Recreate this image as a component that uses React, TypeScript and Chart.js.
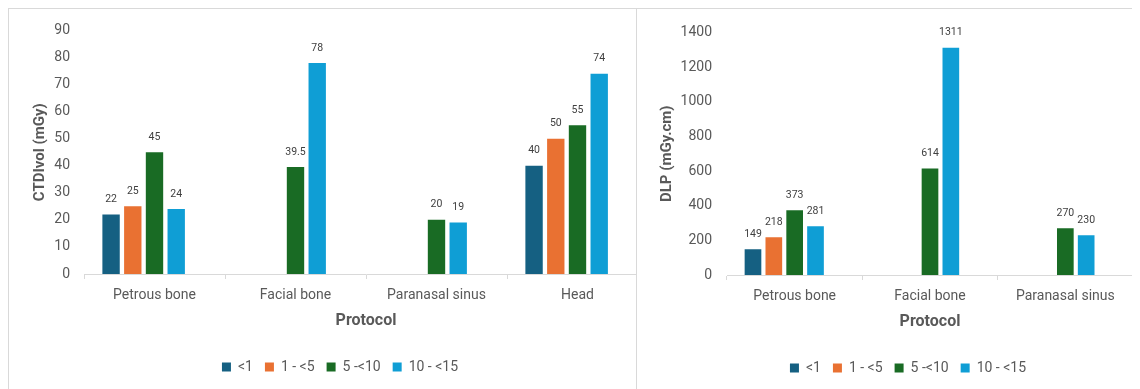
import React, { useEffect, useRef } from "react";
import { Chart, registerables } from "chart.js";

Chart.register(...registerables);

// Age groups (years) shared by both panels
const ageGroups = ["<1", "1 - <5", "5 -<10", "10 - <15"];
const ageColors = ["#156082", "#E97132", "#196B24", "#0F9ED5"];

// CTDIvol by protocol
const ctdiProtocols = ["Petrous bone", "Facial bone", "Paranasal sinus", "Head"];
const ctdiUnder1 = [22, null, null, 40];
const ctdi1to5 = [25, null, null, 50];
const ctdi5to10 = [45, 39.5, 20, 55];
const ctdi10to15 = [24, 78, 19, 74];
const ctdiMax = 90;
const ctdiStep = 10;

// DLP by protocol
const dlpProtocols = ["Petrous bone", "Facial bone", "Paranasal sinus"];
const dlpUnder1 = [149, null, null];
const dlp1to5 = [218, null, null];
const dlp5to10 = [373, 614, 270];
const dlp10to15 = [281, 1311, 230];
const dlpMax = 1400;
const dlpStep = 200;

const FONT = "Roboto, 'Noto Sans', sans-serif";
const GREY_TEXT = "#595959";
const GREY_LINE = "#d9d9d9";

Chart.defaults.font.family = FONT;

// Prints each bar's value above it
const valueLabels = {
  id: "valueLabels",
  afterDatasetsDraw(chart: any) {
    const ctx = chart.ctx;
    ctx.save();
    ctx.font = `10.5px ${FONT}`;
    ctx.fillStyle = "#404040";
    ctx.textAlign = "center";
    ctx.textBaseline = "middle";
    chart.data.datasets.forEach((ds: any, di: number) => {
      const meta = chart.getDatasetMeta(di);
      if (meta.hidden) return;
      meta.data.forEach((bar: any, i: number) => {
        const v = ds.data[i];
        if (v === null || v === undefined) return;
        ctx.fillText(String(v), bar.x, bar.y - 15);
      });
    });
    ctx.restore();
  },
};

// Centres the legend on the whole canvas rather than on the padded box
const legendOnFullWidth = {
  id: "legendOnFullWidth",
  afterLayout(chart: any) {
    if (!chart.legend) return;
    chart.legend.left = 0;
    chart.legend.right = chart.width;
  },
};

type PanelProps = {
  left: number;
  width: number;
  labels: string[];
  series: (number | null)[][];
  max: number;
  step: number;
  yTitle: string;
  yAxisWidth: number;
  rightPad: number;
  yTitlePad: number;
  yTickPad: number;
};

function BarPanel(p: PanelProps) {
  const ref = useRef<HTMLCanvasElement>(null);

  useEffect(() => {
    if (!ref.current) return;
    const datasets: any[] = p.series.map((data, i) => ({
      label: ageGroups[i],
      data,
      backgroundColor: ageColors[i],
      borderWidth: 0,
    }));
    // empty fifth slot in each group, kept out of the legend
    datasets.push({
      label: "",
      data: p.labels.map(() => null),
      backgroundColor: "rgba(0,0,0,0)",
    });

    const chart = new Chart(ref.current, {
      type: "bar",
      data: { labels: p.labels, datasets },
      plugins: [valueLabels, legendOnFullWidth],
      options: {
        responsive: false,
        animation: false,
        events: [],
        layout: { padding: { top: 20, left: 0, right: p.rightPad, bottom: 0 } },
        datasets: {
          bar: { categoryPercentage: 0.77, barPercentage: 0.8 },
        },
        plugins: {
          tooltip: { enabled: false },
          legend: {
            position: "bottom",
            labels: {
              boxWidth: 9,
              boxHeight: 9,
              padding: 12,
              color: GREY_TEXT,
              font: { size: 14, family: FONT },
              filter: (item: any) => item.text !== "",
            },
          },
        },
        scales: {
          x: {
            offset: true,
            grid: {
              display: true,
              drawOnChartArea: false,
              drawTicks: true,
              tickLength: 5,
              color: GREY_LINE,
              offset: true,
            },
            border: { display: true, color: GREY_LINE },
            ticks: {
              color: GREY_TEXT,
              font: { size: 14, family: FONT },
              padding: 8,
              maxRotation: 0,
              autoSkip: false,
            },
            title: {
              display: true,
              text: "Protocol",
              color: GREY_TEXT,
              font: { size: 16, weight: "bold", family: FONT },
              padding: { top: 0, bottom: 17 },
            },
            afterFit: (scale: any) => {
              scale.height = 74;
            },
          },
          y: {
            min: 0,
            max: p.max,
            grid: { display: false, drawTicks: false },
            border: { display: false },
            ticks: {
              stepSize: p.step,
              color: GREY_TEXT,
              font: { size: 14, family: FONT },
              padding: p.yTickPad,
              callback: (v: any) => String(v),
            },
            title: {
              display: true,
              text: p.yTitle,
              color: GREY_TEXT,
              font: { size: 15, weight: "bold", family: FONT },
              padding: { top: p.yTitlePad, bottom: 0 },
            },
            afterFit: (scale: any) => {
              scale.width = p.yAxisWidth;
            },
          },
        },
      },
    } as any);
    return () => chart.destroy();
  }, []);

  return (
    <canvas
      ref={ref}
      width={p.width}
      height={376}
      style={{ position: "absolute", left: p.left, top: 0, display: "block" }}
    />
  );
}

export default function App() {
  return (
    <div
      style={{
        position: "relative",
        width: 1132,
        height: 381,
        overflow: "hidden",
        background: "#ffffff",
        borderTop: `1px solid ${GREY_LINE}`,
        borderLeft: `1px solid ${GREY_LINE}`,
        boxSizing: "border-box",
      }}
    >
      <div
        style={{
          position: "absolute",
          left: -1,
          top: -1,
          width: 628,
          height: 390,
          overflow: "hidden",
        }}
      >
        <BarPanel
          left={0}
          width={664}
          labels={ctdiProtocols}
          series={[ctdiUnder1, ctdi1to5, ctdi5to10, ctdi10to15]}
          max={ctdiMax}
          step={ctdiStep}
          yTitle="CTDIvol (mGy)"
          yAxisWidth={76}
          rightPad={24}
          yTitlePad={23}
          yTickPad={14}
        />
      </div>
      <div
        style={{
          position: "absolute",
          left: 627,
          top: -1,
          width: 1,
          height: 390,
          background: GREY_LINE,
        }}
      />
      <BarPanel
        left={627}
        width={544}
        labels={dlpProtocols}
        series={[dlpUnder1, dlp1to5, dlp5to10, dlp10to15]}
        max={dlpMax}
        step={dlpStep}
        yTitle="DLP (mGy.cm)"
        yAxisWidth={91}
        rightPad={47}
        yTitlePad={22}
        yTickPad={15}
      />
    </div>
  );
}
